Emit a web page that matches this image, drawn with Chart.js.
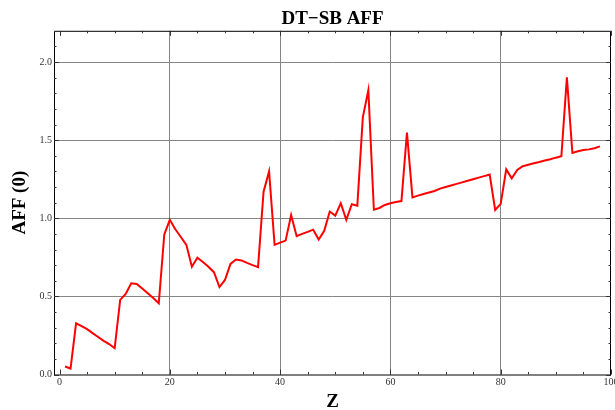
<!DOCTYPE html>
<html>
<head>
    <title>DT-SB AFF</title>
    <script src="https://cdn.jsdelivr.net/npm/chart.js"></script>
    <style>
        html, body { margin: 0; padding: 0; background: #ffffff; }
        #wrap { width: 615px; height: 410px; }
    </style>
</head>
<body>
    <div id="wrap">
        <canvas id="aff"></canvas>
    </div>

    <script>
        // Z values (proton number)
        var zValues = [
            1, 2, 3, 4, 5, 6, 7, 8, 9, 10,
            11, 12, 13, 14, 15, 16, 17, 18, 19, 20,
            21, 22, 23, 24, 25, 26, 27, 28, 29, 30,
            31, 32, 33, 34, 35, 36, 37, 38, 39, 40,
            41, 42, 43, 44, 45, 46, 47, 48, 49, 50,
            51, 52, 53, 54, 55, 56, 57, 58, 59, 60,
            61, 62, 63, 64, 65, 66, 67, 68, 69, 70,
            71, 72, 73, 74, 75, 76, 77, 78, 79, 80,
            81, 82, 83, 84, 85, 86, 87, 88, 89, 90,
            91, 92, 93, 94, 95, 96, 97, 98
        ];

        // AFF(0)
        var affValues = [
            0.051, 0.038, 0.328, 0.31, 0.29, 0.265, 0.24, 0.215, 0.195, 0.168,
            0.478, 0.516, 0.584, 0.58, 0.55, 0.52, 0.49, 0.456, 0.896, 0.99,
            0.93, 0.88, 0.83, 0.69, 0.748, 0.72, 0.69, 0.655, 0.56, 0.605,
            0.708, 0.736, 0.73, 0.714, 0.70, 0.687, 1.17, 1.30, 0.83, 0.844,
            0.857, 1.02, 0.885, 0.90, 0.913, 0.927, 0.864, 0.92, 1.043, 1.017,
            1.096, 0.99, 1.09, 1.08, 1.646, 1.82, 1.055, 1.066, 1.085, 1.096,
            1.104, 1.11, 1.548, 1.134, 1.145, 1.155, 1.165, 1.175, 1.19, 1.20,
            1.21, 1.22, 1.23, 1.24, 1.25, 1.26, 1.27, 1.28, 1.053, 1.092,
            1.313, 1.256, 1.309, 1.333, 1.343, 1.352, 1.36, 1.37, 1.378, 1.388,
            1.397, 1.902, 1.418, 1.429, 1.437, 1.441, 1.448, 1.46
        ];

        var xTickLabels = [0, 20, 40, 60, 80, 100];
        var yTickLabels = ["0.0", "0.5", "1.0", "1.5", "2.0"];

        var serif = "'Liberation Serif', 'DejaVu Serif', serif";
        var gridGray = '#858585';

        // frame with small inward ticks on all four sides, Mathematica style
        var framePlugin = {
            id: 'frame',
            afterDraw: function(chart) {
                var ctx = chart.ctx;
                var a = chart.chartArea;
                var xs = chart.scales.x;
                var ys = chart.scales.y;
                ctx.save();
                ctx.strokeStyle = '#000';
                ctx.lineWidth = 1;
                ctx.strokeRect(a.left + 0.5, a.top + 0.5, a.right - a.left - 1, a.bottom - a.top);
                ctx.strokeStyle = '#333';
                ctx.beginPath();
                for (var i = 0; i <= 20; i++) {
                    var px = Math.round(xs.getPixelForValue(i * 5)) + 0.5;
                    var len = (i % 4 === 0) ? 5 : 2.5;
                    ctx.moveTo(px, a.bottom); ctx.lineTo(px, a.bottom - len);
                    ctx.moveTo(px, a.top); ctx.lineTo(px, a.top + len);
                }
                for (var j = 0; j <= 22; j++) {
                    var py = Math.round(ys.getPixelForValue(j / 10)) + 0.5;
                    var l2 = (j % 5 === 0) ? 5 : 2.5;
                    ctx.moveTo(a.left, py); ctx.lineTo(a.left + l2, py);
                    ctx.moveTo(a.right, py); ctx.lineTo(a.right - l2, py);
                }
                ctx.stroke();
                ctx.restore();
            }
        };

        var points = zValues.map(function(z, i) { return { x: z, y: affValues[i] }; });

        new Chart(document.getElementById('aff'), {
            type: 'line',
            data: {
                datasets: [{
                    label: 'AFF (0)',
                    data: points,
                    borderColor: '#ff0000',
                    borderWidth: 2,
                    pointRadius: 0,
                    tension: 0,
                    fill: false
                }]
            },
            options: {
                responsive: true,
                maintainAspectRatio: false,
                animation: false,
                layout: { padding: { left: 0, right: 4, top: 0, bottom: 0 } },
                plugins: {
                    legend: { display: false },
                    tooltip: { enabled: false },
                    title: {
                        display: true,
                        text: 'DT\u2212SB AFF',
                        fullSize: false,
                        color: '#000',
                        font: { family: serif, size: 19, weight: 'bold', lineHeight: 1.2 },
                        padding: { top: 8, bottom: 0 }
                    }
                },
                scales: {
                    x: {
                        type: 'linear',
                        min: -1,
                        max: 100,
                        afterBuildTicks: function(s) {
                            s.ticks = xTickLabels.map(function(v) { return { value: v }; });
                        },
                        afterFit: function(s) {
                            s.height = 35.5;
                            s.paddingLeft = 0;
                            s.paddingRight = 0;
                        },
                        ticks: {
                            autoSkip: false,
                            maxRotation: 0,
                            padding: 2,
                            color: '#333',
                            font: { family: serif, size: 10 }
                        },
                        grid: {
                            drawTicks: false,
                            lineWidth: 1,
                            color: function(c) {
                                var v = c.tick ? c.tick.value : 0;
                                return (v > 0 && v < 100) ? gridGray : 'rgba(0,0,0,0)';
                            }
                        },
                        border: { display: false },
                        title: {
                            display: true,
                            text: 'Z',
                            color: '#000',
                            font: { family: serif, size: 19, weight: 'bold', lineHeight: 0.8 },
                            padding: { top: 0, bottom: 0 }
                        }
                    },
                    y: {
                        min: 0,
                        max: 2.2,
                        afterBuildTicks: function(s) {
                            s.ticks = yTickLabels.map(function(t) { return { value: parseFloat(t) }; });
                        },
                        afterFit: function(s) {
                            s.width = 54;
                            s.paddingTop = 0;
                            s.paddingBottom = 0;
                        },
                        ticks: {
                            autoSkip: false,
                            padding: 2,
                            color: '#333',
                            font: { family: serif, size: 10 },
                            callback: function(v) { return Number(v).toFixed(1); }
                        },
                        grid: {
                            drawTicks: false,
                            lineWidth: 1,
                            color: function(c) {
                                var v = c.tick ? c.tick.value : 0;
                                return v > 0 ? gridGray : 'rgba(0,0,0,0)';
                            }
                        },
                        border: { display: false },
                        title: {
                            display: true,
                            text: 'AFF (0)',
                            color: '#000',
                            font: { family: serif, size: 19, weight: 'bold', lineHeight: 1.2 },
                            padding: { top: 9, bottom: 0 }
                        }
                    }
                }
            },
            plugins: [framePlugin]
        });
    </script>
</body>
</html>
